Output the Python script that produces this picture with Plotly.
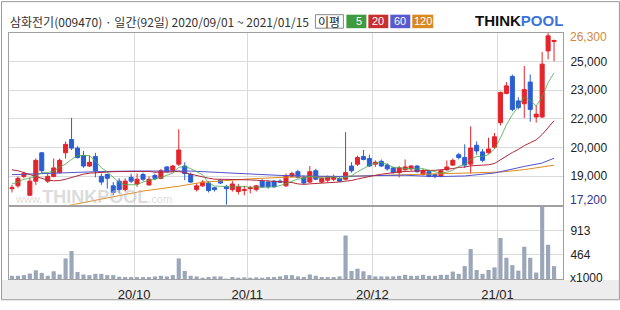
import plotly.graph_objects as go

# ---------------- data ----------------
stock_title = "삼화전기(009470) · 일간(92일) 2020/09/01 ~ 2021/01/15"
month_labels = ["20/10", "20/11", "20/12", "21/01"]
month_start_idx = [21, 40, 61, 82]

opens = [18050, 18200, 18700, 17700, 18450, 19950, 18450, 18700, 18900, 19950,
         20650, 20200, 19800, 19250, 19750, 18700, 18800, 18200, 18450, 18000,
         18650, 18300, 18800, 18250, 18750, 18600, 19200, 19000, 19350, 19250,
         18800, 18000, 18200, 18350, 18100, 18500, 18150, 18000, 17900, 17950,
         18050, 18000, 18450, 18400, 18450, 18450, 18200, 18700, 18950, 18650,
         18400, 19000, 18400, 18500, 18550, 18600, 18550, 19250, 19350, 19750,
         19650, 19350, 19500, 19300, 19150, 18900, 19050, 19100, 19250, 18800,
         18950, 18800, 18700, 19050, 19300, 19850, 19700, 19350, 20350, 20000,
         19950, 20250, 21550, 23100, 24000, 22700, 22550, 23700, 21850, 21850,
         25350, 25850]
highs = [18250, 18700, 18950, 18650, 19650, 20000, 18850, 19650, 19650, 20550,
         21800, 20300, 20050, 19800, 19950, 18850, 18850, 18400, 18600, 18600,
         18850, 18850, 18900, 18700, 18850, 19100, 19250, 19300, 21200, 19450,
         18900, 18350, 18500, 18450, 18150, 18550, 18250, 18450, 18300, 18200,
         18200, 18250, 18550, 18500, 18500, 18550, 18850, 18950, 19050, 18750,
         19250, 19100, 18650, 18750, 18800, 18650, 21050, 19450, 19800, 20100,
         19850, 19550, 19600, 19400, 19200, 19250, 19600, 19300, 19300, 19100,
         19000, 18850, 19050, 19550, 19650, 19950, 20400, 21350, 20550, 20150,
         20750, 21000, 23200, 23700, 24100, 22900, 24550, 24100, 22450, 25300,
         26300, 25950]
lows = [17850, 18100, 18600, 17650, 18250, 18850, 18350, 18650, 18850, 19650,
        20100, 19650, 19150, 19200, 18650, 18250, 18050, 17700, 17800, 17900,
        18350, 18150, 18450, 18200, 18500, 18550, 18900, 18950, 19250, 18500,
        18350, 17900, 18150, 17850, 17900, 18300, 17200, 17900, 17750, 17700,
        17800, 17900, 18100, 18050, 18100, 18350, 18150, 18650, 18600, 18300,
        18350, 18500, 18350, 18400, 18450, 18400, 18500, 18900, 19250, 19550,
        19200, 19200, 19200, 19000, 18850, 18650, 19000, 19000, 18900, 18750,
        18650, 18600, 18650, 19000, 19250, 19600, 19150, 18850, 19850, 19450,
        19900, 20150, 21400, 23050, 22150, 22250, 21800, 21600, 21550, 21800,
        24900, 24800]
closes = [18100, 18600, 18850, 18450, 19550, 19000, 18700, 19150, 19550, 20400,
          20200, 19700, 19250, 19450, 19000, 18400, 18600, 17850, 18000, 18450,
          18450, 18550, 18550, 18550, 18600, 19000, 18950, 19250, 20100, 18850,
          18400, 18200, 18400, 17950, 18000, 18350, 18050, 18300, 18150, 18000,
          18100, 18200, 18150, 18150, 18150, 18400, 18750, 18850, 18650, 18350,
          18950, 18550, 18600, 18650, 18650, 18450, 18900, 19000, 19700, 19600,
          19250, 19450, 19250, 19100, 18900, 19150, 19200, 19250, 18950, 19000,
          18700, 18700, 19000, 19200, 19550, 19700, 19300, 20200, 20050, 19550,
          20150, 20800, 23150, 23500, 22250, 22350, 23300, 22250, 22000, 24650,
          26150, 25900]
# volume in thousands of shares
volumes = [75, 75, 87, 117, 177, 129, 75, 159, 99, 398,
           536, 147, 99, 87, 111, 111, 87, 87, 57, 51,
           51, 51, 51, 51, 63, 75, 63, 87, 398, 165,
           75, 63, 39, 51, 63, 63, 20, 51, 39, 45,
           39, 45, 39, 51, 51, 63, 87, 87, 63, 51,
           99, 75, 51, 51, 51, 63, 824, 165, 207, 159,
           87, 63, 63, 63, 63, 75, 93, 75, 75, 93,
           75, 75, 93, 93, 153, 111, 255, 575, 183, 111,
           183, 231, 780, 410, 273, 171, 614, 410, 135, 1362,
           652, 255]
ma5 = [18300, 18400, 18550, 18600, 18710, 18890, 18910, 18970, 19190, 19360,
       19600, 19800, 19820, 19800, 19520, 19160, 18940, 18660, 18370, 18260,
       18270, 18260, 18400, 18510, 18540, 18650, 18730, 18870, 19180, 19230,
       19110, 18960, 18790, 18360, 18190, 18180, 18150, 18130, 18170, 18170,
       18120, 18150, 18120, 18120, 18150, 18210, 18320, 18460, 18560, 18600,
       18710, 18670, 18620, 18620, 18680, 18580, 18650, 18730, 18940, 19130,
       19290, 19400, 19450, 19330, 19190, 19170, 19120, 19120, 19090, 19110,
       19020, 18920, 18870, 18920, 19030, 19230, 19350, 19590, 19760, 19760,
       19850, 20150, 20740, 21430, 21970, 22410, 22910, 22730, 22430, 22910,
       23670, 24190]
ma20 = [19050, 19000, 18900, 18800, 18700, 18600, 18500, 18470, 18480, 18550,
        18650, 18750, 18820, 18870, 18900, 18920, 18940, 18950, 18955, 18962,
        18980, 18978, 18963, 18968, 18920, 18920, 18933, 18938, 18965, 18888,
        18798, 18723, 18680, 18605, 18555, 18553, 18525, 18548, 18555, 18533,
        18515, 18498, 18478, 18458, 18435, 18405, 18395, 18375, 18303, 18278,
        18305, 18323, 18333, 18368, 18400, 18405, 18448, 18483, 18560, 18640,
        18698, 18760, 18815, 18863, 18900, 18938, 18960, 18980, 18995, 19028,
        19015, 19023, 19043, 19070, 19115, 19178, 19198, 19258, 19275, 19273,
        19318, 19385, 19580, 19800, 19968, 20128, 20333, 20483, 20635, 20918,
        21290, 21650]
ma60_idx = [0, 5, 10, 15, 20, 25, 30, 35, 40, 45, 50, 55, 60, 61, 66, 71, 76, 81, 86, 89, 91]
ma60 = [18793, 18855, 18907, 18959, 18984, 19000, 18984, 18907, 18829, 18752,
        18715, 18700, 18731, 18745, 18763, 18689, 18723, 18881, 19229, 19408, 19665]
ma120_idx = [0, 10, 15, 22, 28, 32, 40, 46, 56, 69, 82, 86, 91]
ma120 = [16580, 17190, 17510, 17925, 18180, 18390, 18570, 18660, 18700, 18830,
         18930, 19060, 19295]

price_low, price_high = 17200, 26300
price_tick_text = ["19,000", "20,000", "22,000", "23,000", "25,000"]
vol_low, vol_high = 15, 1362
vol_tick_text = ["464", "913"]
ma_names = ["5", "20", "60", "120"]

# ---------------- style ----------------
UP = "#e3252b"
DOWN = "#2a5fd3"
VOL = "#9ba6b8"
MA_COLORS = ["#4aa84a", "#b0283a", "#5353cf", "#e08c1e"]
BOX_COLORS = ["#3f9b3f", "#c8302f", "#5a5ad0", "#d88a1e"]
GRID = "#dadada"
BORDER = "#a0a0a0"
FONT = "Liberation Sans"

W, H = 620, 310
ML, MR, MT, MB = 8, 57, 33, 22
PW, PH = W - ML - MR, H - MT - MB


def pxx(px):
    return (px - ML) / PW


def pxy(py):
    return (H - MB - py) / PH


n = len(closes)
xs = list(range(n))
month_ticks = [m - 0.5 for m in month_start_idx]
span = (price_high - price_low) / 6
price_ticks = [price_low + span * k for k in range(1, 6)]
vspan = (vol_high - vol_low) / 3
vol_ticks = [vol_low + vspan * k for k in range(1, 3)]

fig = go.Figure()
fig.add_trace(go.Bar(x=xs, y=volumes, marker=dict(color=VOL, line=dict(width=0)),
                     xaxis="x", yaxis="y", hoverinfo="skip"))
fig.add_trace(go.Scatter(x=ma120_idx, y=ma120, mode="lines",
                         line=dict(color=MA_COLORS[3], width=1), xaxis="x2", yaxis="y2"))
fig.add_trace(go.Scatter(x=ma60_idx, y=ma60, mode="lines",
                         line=dict(color=MA_COLORS[2], width=1), xaxis="x2", yaxis="y2"))
fig.add_trace(go.Scatter(x=xs, y=ma20, mode="lines",
                         line=dict(color=MA_COLORS[1], width=1), xaxis="x2", yaxis="y2"))
fig.add_trace(go.Scatter(x=xs, y=ma5, mode="lines",
                         line=dict(color=MA_COLORS[0], width=0.8), xaxis="x2", yaxis="y2"))
fig.add_trace(go.Candlestick(
    x=xs, open=opens, high=highs, low=lows, close=closes, xaxis="x2", yaxis="y2",
    increasing=dict(line=dict(color=UP, width=1), fillcolor=UP),
    decreasing=dict(line=dict(color=DOWN, width=1), fillcolor=DOWN),
    whiskerwidth=0, hoverinfo="skip"))

axis_common = dict(showline=True, mirror=True, linecolor=BORDER, linewidth=1,
                   gridcolor=GRID, gridwidth=1, zeroline=False, fixedrange=True)

shapes = [
    dict(type="rect", xref="paper", yref="paper", x0=pxx(1), x1=pxx(619),
         y0=pxy(289), y1=pxy(309), fillcolor="#ededed", line=dict(width=0), layer="below"),
    dict(type="rect", xref="paper", yref="paper", x0=pxx(0.5), x1=pxx(619.5),
         y0=pxy(0.5), y1=pxy(309.5), line=dict(color="#9a9a9a", width=1)),
]


def label(text, x, y, xanchor="left", size=12, color="#222222", family=FONT):
    return dict(text=text, xref="paper", yref="paper", x=pxx(x), y=pxy(y),
                xanchor=xanchor, yanchor="middle", showarrow=False,
                font=dict(family=family, size=size, color=color))


annotations = [label(stock_title, 7, 21, family="Noto Sans CJK KR", color="#333333")]
# MA legend boxes
shapes.append(dict(type="rect", xref="paper", yref="paper", x0=pxx(315), x1=pxx(343),
                   y0=pxy(28), y1=pxy(14), fillcolor="white", line=dict(color="#888888", width=1)))
annotations.append(label("이평", 329, 21, xanchor="center", family="Noto Sans CJK KR"))
box_x = [(346, 366), (368, 388), (390, 410), (412, 433)]
for (bx0, bx1), name, col in zip(box_x, ma_names, BOX_COLORS):
    shapes.append(dict(type="rect", xref="paper", yref="paper", x0=pxx(bx0), x1=pxx(bx1),
                       y0=pxy(28), y1=pxy(14), fillcolor=col, line=dict(width=0)))
    if len(name) == 1:
        annotations.append(label(name, bx1 - 2, 21, xanchor="right", size=11, color="white"))
    else:
        annotations.append(label(name, (bx0 + bx1) / 2, 21, xanchor="center", size=11,
                                 color="white"))
# logo
annotations.append(label("<b>THINK</b><b><span style='color:#3b74d6'>POOL</span></b>",
                         565, 20, xanchor="right", size=15, color="#111111"))
# watermark
annotations.append(label("<span style='font-size:11px'>www.</span><b>THINKPOOL</b>"
                         "<span style='font-size:11px'>.com</span>",
                         93, 203, xanchor="center", size=18, color="rgba(190,190,190,0.55)"))
# extreme labels and unit
annotations.append(label("26,300", 568, 37, color="#cf8a3e"))
annotations.append(label("17,200", 568, 206, color="#33338f"))
annotations.append(label("x1000", 568, 287))

fig.update_layout(
    width=W, height=H, margin=dict(l=ML, r=MR, t=MT, b=MB),
    paper_bgcolor="white", plot_bgcolor="white", showlegend=False,
    font=dict(family=FONT, size=12, color="#222222"),
    bargap=0.3, boxgap=0.2, boxgroupgap=0.15, hovermode=False,
    xaxis=dict(domain=[0, 1], range=[-0.5, n + 0.5], anchor="y",
               tickvals=month_ticks, ticktext=month_labels, ticks="outside", ticklen=3,
               tickcolor="rgba(0,0,0,0)", tickfont=dict(size=13, color="#222"),
               showgrid=True, **axis_common),
    xaxis2=dict(domain=[0, 1], range=[-0.5, n + 0.5], anchor="y2", matches="x",
                tickvals=month_ticks, showticklabels=False, ticks="",
                showgrid=True, rangeslider=dict(visible=False), **axis_common),
    yaxis=dict(domain=[0, pxy(213)], range=[vol_low, vol_high], anchor="x", side="right",
               tickvals=vol_ticks, ticktext=vol_tick_text, ticks="outside", ticklen=4,
               tickcolor="rgba(0,0,0,0)", showgrid=True, **axis_common),
    yaxis2=dict(domain=[pxy(211), 1], range=[price_low, price_high], anchor="x2", side="right",
                tickvals=price_ticks, ticktext=price_tick_text, ticks="outside", ticklen=4,
                tickcolor="rgba(0,0,0,0)", showgrid=True, **axis_common),
    shapes=shapes, annotations=annotations,
)

fig.write_html("out.html")
